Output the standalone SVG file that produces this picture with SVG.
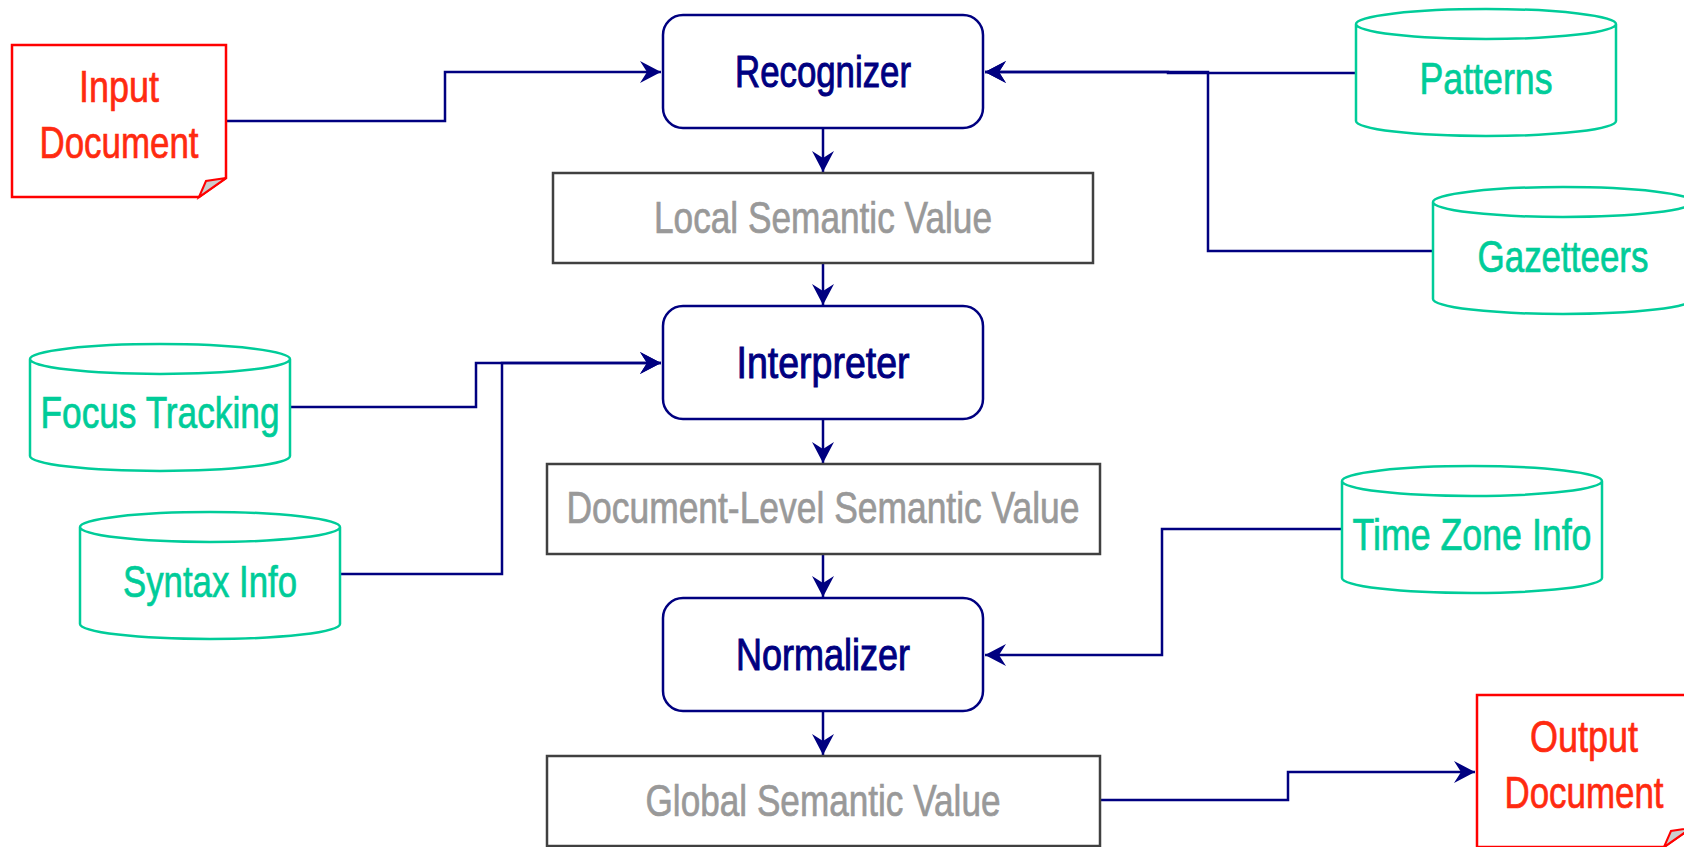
<svg xmlns="http://www.w3.org/2000/svg" width="1684" height="847" viewBox="0 0 1684 847">
<style>
text{font-family:"Liberation Sans Narrow","Liberation Sans",Arial,sans-serif;font-size:45px;text-anchor:middle;stroke-width:0.7}
.proc rect{fill:#fff;stroke:#000080;stroke-width:2.5}
.proc text{fill:#000080;stroke:#000080;stroke-width:1}
.val rect{fill:#fff;stroke:#404040;stroke-width:2.5}
.val text{fill:#999999;stroke:#999999}
.db path{fill:#fff;stroke:#00CC99;stroke-width:2.5}
.db text{fill:#00CC99;stroke:#00CC99}
.doc .body{fill:#fff;stroke:#FF0000;stroke-width:2.5}
.doc .fold{fill:#cccccc;stroke:#FF0000;stroke-width:2}
.doc text{fill:#FF2A10;stroke:#FF2A10}
.conn path{fill:none;stroke:#000080;stroke-width:2.5}
</style>
<defs>
<marker id="arr" viewBox="-22 -12 24 24" refX="0" refY="0" markerWidth="24" markerHeight="24" markerUnits="userSpaceOnUse" orient="auto">
<path d="M0,0 L-21,-11 L-14,0 L-21,11 Z" fill="#000080"/>
</marker>
</defs>
<rect width="1684" height="847" fill="#fff"/>

<g id="connectors" class="conn">
<path d="M226,121 H445 V72 H661" marker-end="url(#arr)"/>
<path d="M1356,73 H1168 V72 H985" marker-end="url(#arr)"/>
<path d="M1433,251 H1208 V72 H985" marker-end="url(#arr)"/>
<path d="M823,128 V172" marker-end="url(#arr)"/>
<path d="M823,263 V305" marker-end="url(#arr)"/>
<path d="M290,407 H476 V363 H661" marker-end="url(#arr)"/>
<path d="M340,574 H502 V363 H661" marker-end="url(#arr)"/>
<path d="M823,419 V463" marker-end="url(#arr)"/>
<path d="M823,554 V597" marker-end="url(#arr)"/>
<path d="M1342,529 H1162 V655 H985" marker-end="url(#arr)"/>
<path d="M823,711 V755" marker-end="url(#arr)"/>
<path d="M1100,800 H1288 V772 H1475" marker-end="url(#arr)"/>
</g>

<g id="input-document" class="doc">
<path class="body" d="M12,45 H226 V178 L199,197 H12 Z"/>
<path class="fold" d="M199,197 L206,181 L226,178 Z"/>
<text x="119" y="102" textLength="80" lengthAdjust="spacingAndGlyphs">Input</text>
<text x="119" y="158" textLength="159" lengthAdjust="spacingAndGlyphs">Document</text>
</g>

<g id="recognizer" class="proc">
<rect x="663" y="15" width="320" height="113" rx="20"/>
<text x="823" y="87" textLength="176" lengthAdjust="spacingAndGlyphs">Recognizer</text>
</g>

<g id="local-semantic-value" class="val">
<rect x="553" y="173" width="540" height="90"/>
<text x="823" y="233" textLength="338" lengthAdjust="spacingAndGlyphs">Local Semantic Value</text>
</g>

<g id="interpreter" class="proc">
<rect x="663" y="306" width="320" height="113" rx="20"/>
<text x="823" y="378" textLength="173" lengthAdjust="spacingAndGlyphs">Interpreter</text>
</g>

<g id="document-level-semantic-value" class="val">
<rect x="547" y="464" width="553" height="90"/>
<text x="823" y="523" textLength="513" lengthAdjust="spacingAndGlyphs">Document-Level Semantic Value</text>
</g>

<g id="normalizer" class="proc">
<rect x="663" y="598" width="320" height="113" rx="20"/>
<text x="823" y="670" textLength="174" lengthAdjust="spacingAndGlyphs">Normalizer</text>
</g>

<g id="global-semantic-value" class="val">
<rect x="547" y="756" width="553" height="90"/>
<text x="823" y="816" textLength="355" lengthAdjust="spacingAndGlyphs">Global Semantic Value</text>
</g>

<g id="patterns" class="db">
<path d="M1356,24 V121 A130,15 0 0 0 1616,121 V24 A130,15 0 0 0 1356,24 A130,15 0 0 0 1616,24"/>
<text x="1486" y="94" textLength="133" lengthAdjust="spacingAndGlyphs">Patterns</text>
</g>

<g id="gazetteers" class="db">
<path d="M1433,202 V299 A130,15 0 0 0 1693,299 V202 A130,15 0 0 0 1433,202 A130,15 0 0 0 1693,202"/>
<text x="1563" y="272" textLength="171" lengthAdjust="spacingAndGlyphs">Gazetteers</text>
</g>

<g id="focus-tracking" class="db">
<path d="M30,359 V456 A130,15 0 0 0 290,456 V359 A130,15 0 0 0 30,359 A130,15 0 0 0 290,359"/>
<text x="160" y="428" textLength="239" lengthAdjust="spacingAndGlyphs">Focus Tracking</text>
</g>

<g id="syntax-info" class="db">
<path d="M80,527 V624 A130,15 0 0 0 340,624 V527 A130,15 0 0 0 80,527 A130,15 0 0 0 340,527"/>
<text x="210" y="597" textLength="174" lengthAdjust="spacingAndGlyphs">Syntax Info</text>
</g>

<g id="time-zone-info" class="db">
<path d="M1342,481 V578 A130,15 0 0 0 1602,578 V481 A130,15 0 0 0 1342,481 A130,15 0 0 0 1602,481"/>
<text x="1472" y="550" textLength="239" lengthAdjust="spacingAndGlyphs">Time Zone Info</text>
</g>

<g id="output-document" class="doc">
<path class="body" d="M1477,695 H1691 V828 L1664,847 H1477 Z"/>
<path class="fold" d="M1664,847 L1671,831 L1691,828 Z"/>
<text x="1584" y="752" textLength="108" lengthAdjust="spacingAndGlyphs">Output</text>
<text x="1584" y="808" textLength="159" lengthAdjust="spacingAndGlyphs">Document</text>
</g>
</svg>
